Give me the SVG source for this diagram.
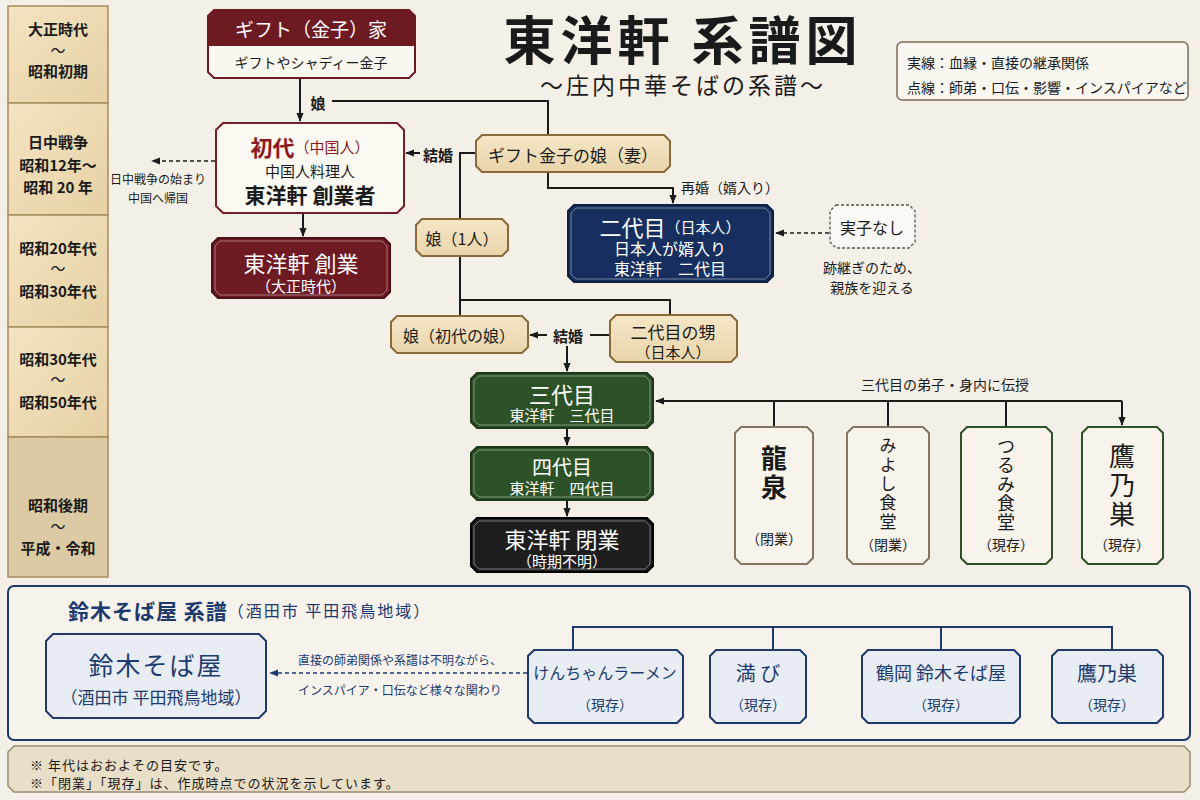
<svg xmlns="http://www.w3.org/2000/svg" width="1200" height="800" viewBox="0 0 1200 800">
<defs>
<marker id="ah" viewBox="0 0 10 10" refX="9" refY="5" markerWidth="9" markerHeight="9" markerUnits="userSpaceOnUse" orient="auto"><path d="M0,1 L10,5 L0,9 Z" fill="#1a1a1a"/></marker>
<marker id="ahn" viewBox="0 0 10 10" refX="9" refY="5" markerWidth="9" markerHeight="9" markerUnits="userSpaceOnUse" orient="auto"><path d="M0,1 L10,5 L0,9 Z" fill="#1d3a6e"/></marker>
<linearGradient id="side" x1="0" y1="0" x2="1" y2="1"><stop offset="0" stop-color="#f3e4c2"/><stop offset="1" stop-color="#e6d1a4"/></linearGradient>
<linearGradient id="tan" x1="0" y1="0" x2="0" y2="1"><stop offset="0" stop-color="#f5e6c6"/><stop offset="1" stop-color="#e9d5ab"/></linearGradient>
</defs>
<style>
text{font-family:"Noto Sans CJK JP","Noto Sans CJK SC",sans-serif;fill:#1a1a1a;text-anchor:middle;dominant-baseline:central}
.l{text-anchor:start}
.b{font-weight:700}
.w{fill:#ffffff}
.v{writing-mode:vertical-rl}
.ln{fill:none;stroke:#1a1a1a;stroke-width:2}
.dash{fill:none;stroke:#1a1a1a;stroke-width:1.6;stroke-dasharray:4 3}
.nv{fill:none;stroke:#1d3a6e;stroke-width:2}
.tanbox{fill:url(#tan);stroke:#8a6a3a;stroke-width:2}
.inner{fill:none;stroke:#ffffff;stroke-opacity:0.4;stroke-width:1}
.seg{fill:url(#side);stroke:#a88c5e;stroke-width:1.5}
.bluebox{fill:#e8edf4;stroke:#1d3a6e;stroke-width:2}
.navytx{fill:#1d3a6e}
</style>
<rect width="1200" height="800" fill="#f5f0e7"/>

<!-- Era sidebar -->
<g id="era">
<rect class="seg" x="8" y="6" width="100" height="97"/>
<rect class="seg" x="8" y="103" width="100" height="112"/>
<rect class="seg" x="8" y="215" width="100" height="112"/>
<rect class="seg" x="8" y="327" width="100" height="110"/>
<rect x="8" y="437" width="100" height="140" fill="#dccaa4" stroke="#a88c5e" stroke-width="1.5"/>
<text x="58" y="28" font-size="15" class="b">大正時代</text>
<text x="58" y="49" font-size="15">～</text>
<text x="58" y="70" font-size="15" class="b">昭和初期</text>
<text x="58" y="141" font-size="15" class="b">日中戦争</text>
<text x="58" y="164" font-size="15" class="b">昭和12年～</text>
<text x="58" y="186" font-size="15" class="b">昭和 20 年</text>
<text x="58" y="247" font-size="15" class="b">昭和20年代</text>
<text x="58" y="267" font-size="15">～</text>
<text x="58" y="290" font-size="15" class="b">昭和30年代</text>
<text x="58" y="358" font-size="15" class="b">昭和30年代</text>
<text x="58" y="378" font-size="15">～</text>
<text x="58" y="401" font-size="15" class="b">昭和50年代</text>
<text x="58" y="504" font-size="15" class="b">昭和後期</text>
<text x="58" y="525" font-size="15">～</text>
<text x="58" y="547" font-size="15" class="b">平成・令和</text>
</g>

<!-- Title -->
<g id="title">
<text x="683" y="37" font-size="52" letter-spacing="5" class="b">東洋軒 系譜図</text>
<text x="683" y="84" font-size="23" letter-spacing="3">～庄内中華そばの系譜～</text>
</g>

<!-- Legend -->
<g id="legend">
<rect x="897" y="42" width="291" height="58" rx="5" fill="#faf7f1" stroke="#7a6a55" stroke-width="1.5"/>
<text class="l" x="907" y="62" font-size="14">実線：血縁・直接の継承関係</text>
<text class="l" x="907" y="87" font-size="14">点線：師弟・口伝・影響・インスパイアなど</text>
</g>

<!-- Suzuki panel background -->
<g id="suzuki-panel">
<rect x="8" y="586" width="1182" height="154" rx="6" fill="#f7f3ec" stroke="#1d3a6e" stroke-width="2"/>
<text class="l b navytx" x="68" y="610" font-size="21" letter-spacing="1">鈴木そば屋 系譜<tspan font-size="16" font-weight="400" letter-spacing="2" fill="#1d3a6e">（酒田市 平田飛鳥地域）</tspan></text>
</g>

<!-- Connectors -->
<g id="connectors">
<path class="ln" d="M300,78 V121" marker-end="url(#ah)"/>
<path class="ln" d="M332,101 H548 V135"/>
<path class="ln" d="M303,213 V236" marker-end="url(#ah)"/>
<path class="dash" d="M215,161 H152" marker-end="url(#ah)"/>
<path class="ln" d="M476,153 H460 V219"/>
<path class="ln" d="M420,153 H406" marker-end="url(#ah)"/>
<path class="ln" d="M460,256 V316"/>
<path class="ln" d="M460,300 H670 V315"/>
<path class="ln" d="M548,172 V188 H673 V203" marker-end="url(#ah)"/>
<path class="dash" d="M829,233 H776" marker-end="url(#ah)"/>
<path class="ln" d="M610,335 H590"/>
<path class="ln" d="M547,335 H530" marker-end="url(#ah)"/>
<path class="ln" d="M567,346 V371" marker-end="url(#ah)"/>
<path class="ln" d="M567,428 V445" marker-end="url(#ah)"/>
<path class="ln" d="M567,500 V516" marker-end="url(#ah)"/>
<path class="ln" d="M1122,401 H656" marker-end="url(#ah)"/>
<path class="ln" d="M774,401 V427 M888,401 V427 M1006,401 V427"/>
<path class="ln" d="M1122,401 V425" marker-end="url(#ah)"/>
<path class="nv" d="M573,650 V627 H1112 V650 M773,627 V650 M941,627 V650"/>
<path fill="none" stroke="#1d3a6e" stroke-width="1.4" stroke-dasharray="4 3" d="M527,673 H270" marker-end="url(#ahn)"/>
<text x="318" y="102" font-size="15" class="b">娘</text>
<text x="438" y="154" font-size="15" class="b">結婚</text>
<text class="l" x="681" y="187" font-size="14">再婚（婿入り）</text>
<text x="568" y="335" font-size="15" class="b">結婚</text>
<text x="945" y="384" font-size="14">三代目の弟子・身内に伝授</text>
<text x="158" y="178" font-size="12">日中戦争の始まり</text>
<text x="158" y="197" font-size="12">中国へ帰国</text>
<text x="872" y="267" font-size="14">跡継ぎのため、</text>
<text x="872" y="287" font-size="14">親族を迎える</text>
<text x="400" y="659" font-size="12" class="navytx">直接の師弟関係や系譜は不明ながら、</text>
<text x="400" y="689" font-size="12" class="navytx">インスパイア・口伝など様々な関わり</text>
</g>

<!-- Nodes -->
<g id="gift-family">
<path d="M214,10 H409 L415,16 V72 L409,78 H214 L208,72 V16 Z" fill="#fbf8f2" stroke="#6e1a22" stroke-width="2"/>
<path d="M214,10 H409 L415,16 V46 H208 V16 Z" fill="#6e1a22"/>
<text x="311" y="28" font-size="19" class="w">ギフト（金子）家</text>
<text x="311" y="62" font-size="14">ギフトやシャディー金子</text>
</g>
<g id="shodai">
<path d="M223,123 H397 L404,130 V206 L397,213 H223 L216,206 V130 Z" fill="#fcf9f3" stroke="#7a1c24" stroke-width="2"/>
<text x="310" y="146" font-size="15" fill="#8b1a22"><tspan font-size="22" class="b" fill="#8b1a22">初代</tspan><tspan fill="#8b1a22">（中国人）</tspan></text>
<text x="310" y="170" font-size="15">中国人料理人</text>
<text x="310" y="194" font-size="21" class="b">東洋軒 創業者</text>
</g>
<g id="sogyo">
<path d="M218,238 H384 L390,244 V292 L384,298 H218 L212,292 V244 Z" fill="#6e1a22" stroke="#4e1016" stroke-width="2"/>
<path class="inner" d="M220,241 H382 L387,246 V290 L382,295 H220 L215,290 V246 Z"/>
<text x="301" y="262" font-size="22" class="w">東洋軒 創業</text>
<text x="301" y="285" font-size="15" class="w">（大正時代）</text>
</g>
<g id="gift-musume">
<path class="tanbox" d="M482,135 H664 L670,141 V166 L664,172 H482 L476,166 V141 Z"/>
<text x="573" y="154" font-size="17">ギフト金子の娘（妻）</text>
</g>
<g id="musume1">
<path class="tanbox" d="M422,219 H502 L508,225 V250 L502,256 H422 L416,250 V225 Z"/>
<text x="462" y="238" font-size="16">娘（1人）</text>
</g>
<g id="nidaime">
<path d="M574,205 H767 L773,211 V276 L767,282 H574 L568,276 V211 Z" fill="#172f5f" stroke="#0e1f42" stroke-width="2"/>
<path class="inner" d="M576,208 H765 L770,213 V274 L765,279 H576 L571,274 V213 Z"/>
<text x="670" y="226" font-size="15" class="w"><tspan font-size="22" class="w">二代目</tspan>（日本人）</text>
<text x="670" y="248" font-size="16" class="w">日本人が婿入り</text>
<text x="670" y="268" font-size="16" class="w">東洋軒　二代目</text>
</g>
<g id="jisshi-nashi">
<path d="M836,205 H909 L915,211 V242 L909,248 H836 L830,242 V211 Z" fill="#fbf9f5" stroke="#555" stroke-width="1.3" stroke-dasharray="3 2"/>
<text x="872" y="227" font-size="16">実子なし</text>
</g>
<g id="shodai-musume">
<path class="tanbox" d="M397,316 H522 L528,322 V347 L522,353 H397 L391,347 V322 Z"/>
<text x="459" y="335" font-size="16">娘（初代の娘）</text>
</g>
<g id="oi">
<path class="tanbox" d="M616,315 H731 L737,321 V356 L731,362 H616 L610,356 V321 Z"/>
<text x="673" y="331" font-size="17">二代目の甥</text>
<text x="673" y="351" font-size="15">（日本人）</text>
</g>
<g id="sandaime">
<path d="M477,373 H647 L653,379 V422 L647,428 H477 L471,422 V379 Z" fill="#2e5227" stroke="#1d3818" stroke-width="2"/>
<path class="inner" d="M479,376 H645 L650,381 V420 L645,425 H479 L474,420 V381 Z"/>
<text x="562" y="393" font-size="22" class="w">三代目</text>
<text x="562" y="414" font-size="15" class="w">東洋軒　三代目</text>
</g>
<g id="yondaime">
<path d="M477,447 H647 L653,453 V494 L647,500 H477 L471,494 V453 Z" fill="#2e5227" stroke="#1d3818" stroke-width="2"/>
<path class="inner" d="M479,450 H645 L650,455 V492 L645,497 H479 L474,492 V455 Z"/>
<text x="562" y="466" font-size="20" class="w">四代目</text>
<text x="562" y="487" font-size="15" class="w">東洋軒　四代目</text>
</g>
<g id="heigyo">
<path d="M477,518 H647 L653,524 V566 L647,572 H477 L471,566 V524 Z" fill="#1e1e1e" stroke="#000" stroke-width="2"/>
<path class="inner" d="M479,521 H645 L650,526 V564 L645,569 H479 L474,564 V526 Z"/>
<text x="562" y="538" font-size="22" class="w">東洋軒 閉業</text>
<text x="562" y="560" font-size="15" class="w">（時期不明）</text>
</g>
<g id="ryusen">
<path d="M741,427 H807 L813,433 V558 L807,564 H741 L735,558 V433 Z" fill="#f8f4ec" stroke="#857663" stroke-width="2"/>
<text class="v b" x="774" y="474" font-size="26" letter-spacing="3">龍泉</text>
<text x="774" y="538" font-size="14">（閉業）</text>
</g>
<g id="miyoshi">
<path d="M853,427 H923 L929,433 V558 L923,564 H853 L847,558 V433 Z" fill="#f8f4ec" stroke="#857663" stroke-width="2"/>
<text class="v" x="888" y="485" font-size="17" letter-spacing="2">みよし食堂</text>
<text x="888" y="544" font-size="14">（閉業）</text>
</g>
<g id="tsurumi">
<path d="M967,427 H1046 L1052,433 V558 L1046,564 H967 L961,558 V433 Z" fill="#f8f4ec" stroke="#2e5227" stroke-width="2"/>
<text class="v" x="1006" y="485" font-size="18" letter-spacing="1">つるみ食堂</text>
<text x="1006" y="544" font-size="14">（現存）</text>
</g>
<g id="takanosu">
<path d="M1088,427 H1157 L1163,433 V558 L1157,564 H1088 L1082,558 V433 Z" fill="#f8f4ec" stroke="#2e5227" stroke-width="2"/>
<text class="v" x="1122" y="487" font-size="26" letter-spacing="3" fill="#2e5227">鷹乃巣</text>
<text x="1122" y="544" font-size="14">（現存）</text>
</g>

<g id="suzuki">
<path class="bluebox" d="M53,634 H259 L266,641 V711 L259,718 H53 L46,711 V641 Z"/>
<text x="156" y="664" font-size="25" letter-spacing="2" class="navytx">鈴木そば屋</text>
<text x="156" y="696" font-size="17" class="navytx">（酒田市 平田飛鳥地域）</text>
</g>
<g id="kenchan">
<path class="bluebox" d="M534,650 H677 L683,656 V717 L677,723 H534 L528,717 V656 Z"/>
<text x="605" y="672" font-size="16" class="navytx">けんちゃんラーメン</text>
<text x="605" y="704" font-size="14" class="navytx">（現存）</text>
</g>
<g id="mitsubi">
<path class="bluebox" d="M716,650 H800 L806,656 V717 L800,723 H716 L710,717 V656 Z"/>
<text x="758" y="672" font-size="20" class="navytx">満 び</text>
<text x="758" y="704" font-size="14" class="navytx">（現存）</text>
</g>
<g id="tsuruoka">
<path class="bluebox" d="M868,650 H1014 L1020,656 V717 L1014,723 H868 L862,717 V656 Z"/>
<text x="941" y="672" font-size="18" class="navytx">鶴岡 鈴木そば屋</text>
<text x="941" y="704" font-size="14" class="navytx">（現存）</text>
</g>
<g id="takanosu2">
<path class="bluebox" d="M1058,650 H1157 L1163,656 V717 L1157,723 H1058 L1052,717 V656 Z"/>
<text x="1107" y="672" font-size="20" class="navytx">鷹乃巣</text>
<text x="1107" y="704" font-size="14" class="navytx">（現存）</text>
</g>

<!-- Footnote -->
<g id="footnote">
<path d="M14,746 H1184 L1190,752 V786 L1184,792 H14 L8,786 V752 Z" fill="#e9dec8" stroke="#9a8a70" stroke-width="1.5"/>
<text class="l" x="30" y="764" font-size="13" letter-spacing="1">※ 年代はおおよその目安です。</text>
<text class="l" x="30" y="782" font-size="13" letter-spacing="1">※「閉業」「現存」は、作成時点での状況を示しています。</text>
</g>
</svg>
